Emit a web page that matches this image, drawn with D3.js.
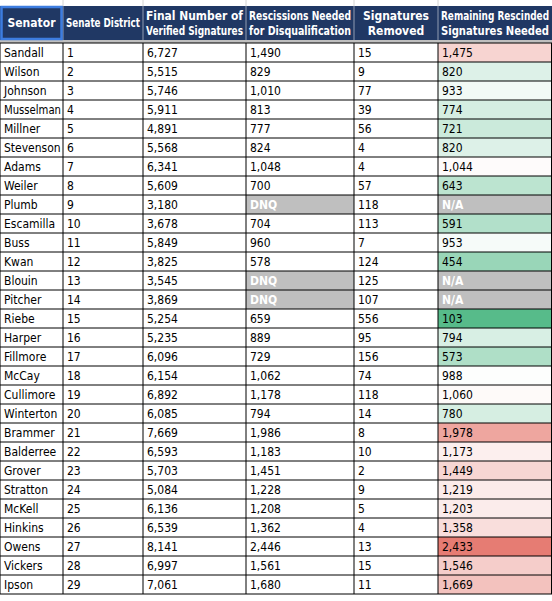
<!DOCTYPE html>
<html lang="en">
<head>
<meta charset="UTF-8">
<script src="https://d3js.org/d3.v7.min.js"></script>
<style>
  body { margin: 0; background: #fff; }
  text { font-family: "Liberation Sans Narrow", "DejaVu Sans Condensed", "Open Sans", sans-serif; }
</style>
</head>
<body>
<svg id="chart" width="552" height="601"></svg>
<script>
// data
const senators = ["Sandall","Wilson","Johnson","Musselman","Millner","Stevenson","Adams","Weiler","Plumb","Escamilla","Buss","Kwan","Blouin","Pitcher","Riebe","Harper","Fillmore","McCay","Cullimore","Winterton","Brammer","Balderree","Grover","Stratton","McKell","Hinkins","Owens","Vickers","Ipson"];
const districts = d3.range(1, 30);
const verified = [6727,5515,5746,5911,4891,5568,6341,5609,3180,3678,5849,3825,3545,3869,5254,5235,6096,6154,6892,6085,7669,6593,5703,5084,6136,6539,8141,6997,7061];
const needed = [1490,829,1010,813,777,824,1048,700,null,704,960,578,null,null,659,889,729,1062,1178,794,1986,1183,1451,1228,1208,1362,2446,1561,1680];
const removed = [15,9,77,39,56,4,4,57,118,113,7,124,125,107,556,95,156,74,118,14,8,10,2,9,5,4,13,15,11];
const remaining = [1475,820,933,774,721,820,1044,643,null,591,953,454,null,null,103,794,573,988,1060,780,1978,1173,1449,1219,1203,1358,2433,1546,1669];
const headers = [["Senator"],["Senate District"],["Final Number of","Verified Signatures"],["Rescissions Needed","for Disqualification"],["Signatures","Removed"],["Remaining Rescinded","Signatures Needed"]];

const svg = d3.select("#chart");
const colEdges = [0, 63, 143, 246, 354, 438, 552];
const rowTop = 43, rowH = 19, headTop = 6, headBot = 40;
const fmt = d3.format(",");

const x = i => colEdges[i];
const y = d3.scaleLinear().domain([0, 1]).range([rowTop, rowTop + rowH]);

const color = d3.scaleLinear().domain([103, 1000, 2433])
  .range(["#57bb8a", "#ffffff", "#e67c73"]);

function fit(t, w) {
  t.each(function() {
    if (this.getComputedTextLength() > w) d3.select(this).attr("textLength", w).attr("lengthAdjust", "spacingAndGlyphs");
  });
}

// top empty strip gridlines
for (let i = 1; i < colEdges.length - 1; i++) {
  svg.append("line").attr("x1", x(i)).attr("x2", x(i)).attr("y1", 0).attr("y2", headTop).attr("stroke", "#d4d4d4");
}

// header
svg.append("rect").attr("x", 0).attr("y", headTop).attr("width", 552).attr("height", headBot - headTop).attr("fill", "#203864");
svg.append("rect").attr("x", 0).attr("y", headBot).attr("width", 552).attr("height", rowTop - headBot).attr("fill", "#bfbfbf");
headers.forEach((h, i) => {
  const cx = (x(i) + x(i + 1)) / 2;
  h.forEach((line, j) => {
    const t = svg.append("text").attr("x", cx).attr("text-anchor", "middle")
      .attr("fill", "#fff").attr("font-size", 12).attr("font-weight", "bold")
      .attr("y", (headTop + headBot) / 2 + 4 + (j - (h.length - 1) / 2) * 15).text(line);
    fit(t, x(i + 1) - x(i) - 6);
  });
  if (i > 0) svg.append("line").attr("x1", x(i)).attr("x2", x(i)).attr("y1", headTop).attr("y2", headBot).attr("stroke", "#ffffff").attr("stroke-opacity", 0.5);
});
svg.append("rect").attr("x", 1.5).attr("y", headTop + 1).attr("width", x(1) - 3).attr("height", headBot - headTop - 2)
  .attr("fill", "none").attr("stroke", "#3d7de0").attr("stroke-width", 2.5);

// rows
const rows = senators.map((s, i) => ({ i, cells: [s, districts[i], fmt(verified[i]),
  needed[i] == null ? "DNQ" : fmt(needed[i]), removed[i], remaining[i] == null ? "N/A" : fmt(remaining[i])] }));

const g = svg.selectAll("g.row").data(rows).enter().append("g")
  .attr("transform", d => `translate(0,${y(d.i)})`);

g.each(function(d) {
  const row = d3.select(this);
  d.cells.forEach((v, c) => {
    let fill = "#fff", txt = "#000", bold = false;
    if ((c === 3 && needed[d.i] == null) || (c === 5 && remaining[d.i] == null)) { fill = "#bfbfbf"; txt = "#fff"; bold = true; }
    else if (c === 5) fill = color(remaining[d.i]);
    row.append("rect").attr("x", x(c)).attr("y", 0).attr("width", x(c + 1) - x(c)).attr("height", rowH)
      .attr("fill", fill);
    const t = row.append("text").attr("x", x(c) + 4).attr("y", rowH / 2 + 4).attr("font-size", 12)
      .attr("fill", txt).attr("font-weight", bold ? "bold" : null).text(v);
    fit(t, x(c + 1) - x(c) - 6);
  });
});

// grid
const bottom = y(senators.length);
for (let i = 0; i <= senators.length; i++) {
  svg.append("line").attr("x1", 0).attr("x2", 552).attr("y1", y(i)).attr("y2", y(i)).attr("stroke", "#000").attr("stroke-width", 1);
}
colEdges.forEach((cx, i) => {
  svg.append("line").attr("x1", Math.min(cx, 551.5)).attr("x2", Math.min(cx, 551.5)).attr("y1", rowTop).attr("y2", bottom).attr("stroke", "#000");
});
</script>
</body>
</html>
